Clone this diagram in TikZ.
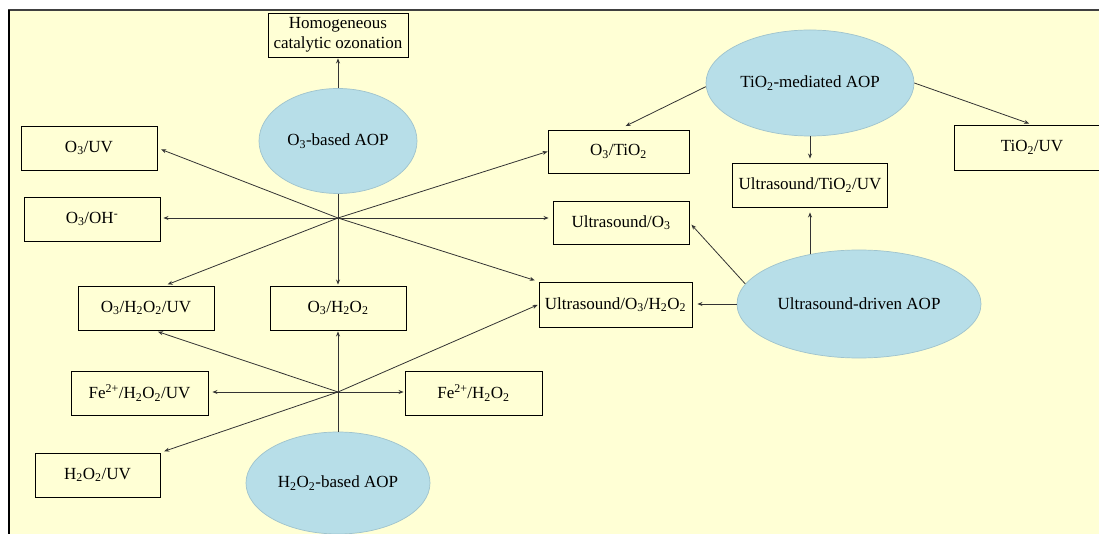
\documentclass[tikz,border=0pt]{standalone}
\usepackage{fontspec}
\setmainfont{Liberation Serif}
\usetikzlibrary{shapes.geometric,arrows.meta}

\begin{document}
\begin{tikzpicture}[x=1pt, y=-1pt, font=\fontsize{17}{20}\selectfont,
   proc/.style={draw, line width=0.9pt, fill=bgyellow, minimum width=136pt,
    minimum height=44pt, inner sep=0pt, align=center},
   aop/.style={ellipse, draw=aopline, line width=0.7pt, fill=aopblue, inner sep=0pt},
   link/.style={-{Stealth[length=5pt,width=4pt]}, line width=0.8pt, draw=linkgray}]
   \definecolor{bgyellow}{HTML}{FFFFD5}
   \definecolor{aopblue}{HTML}{B7DEE8}
   \definecolor{aopline}{HTML}{9FC3CD}
   \definecolor{linkgray}{HTML}{333333}
   \useasboundingbox (0,0) rectangle (1099,534);
   \clip (0,0) rectangle (1099,534);
   \fill[white] (0,0) rectangle (1099,534);
   \fill[bgyellow] (8,10) rectangle (1099,534);
   \draw[line width=2pt, draw=black!75] (8,10.5) -- (1099,10.5);
   \draw[line width=2.2pt] (8.6,10) -- (8.6,534);

   % O3 group
   \node[proc, minimum width=140pt] (homog) at (338,35) {Homogeneous\\catalytic ozonation};
   \node[aop, minimum width=158pt, minimum height=105pt] (o3aop) at (338,141) {O\textsubscript{3}-based AOP};
   \node[proc] (o3uv) at (89,148) {O\textsubscript{3}/UV};
   \node[proc] (o3oh) at (92,219) {O\textsubscript{3}/OH\textsuperscript{-}};
   \node[proc] (o3h2o2uv) at (146,308) {O\textsubscript{3}/H\textsubscript{2}O\textsubscript{2}/UV};
   \node[proc] (o3h2o2) at (338,308) {O\textsubscript{3}/H\textsubscript{2}O\textsubscript{2}};

   % TiO2 group
   \node[aop, minimum width=208pt, minimum height=106pt] (tio2aop) at (810,83) {TiO\textsubscript{2}-mediated AOP};
   \node[proc, minimum width=141pt, minimum height=43pt] (o3tio2) at (618.5,151.5) {O\textsubscript{3}/TiO\textsubscript{2}};
   \node[proc, minimum width=155pt] (ustio2uv) at (810,185) {Ultrasound/TiO\textsubscript{2}/UV};
   \node[proc, minimum width=156pt, minimum height=45pt] (tio2uv) at (1032,147.5) {TiO\textsubscript{2}/UV};

   % ultrasound group
   \node[aop, minimum width=244pt, minimum height=108pt] (usaop) at (859,304) {Ultrasound-driven AOP};
   \node[proc, minimum height=43pt] (uso3) at (621,222.5) {Ultrasound/O\textsubscript{3}};
   \node[proc, minimum width=153pt, minimum height=45pt] (uso3h2o2) at (615.5,304.5) {Ultrasound/O\textsubscript{3}/H\textsubscript{2}O\textsubscript{2}};

   % H2O2 group
   \node[aop, minimum width=184pt, minimum height=102pt] (h2o2aop) at (338,483) {H\textsubscript{2}O\textsubscript{2}-based AOP};
   \node[proc, minimum width=137pt] (feuv) at (139.5,393) {Fe\textsuperscript{2+}/H\textsubscript{2}O\textsubscript{2}/UV};
   \node[proc, minimum width=137pt] (fe) at (473.5,393) {Fe\textsuperscript{2+}/H\textsubscript{2}O\textsubscript{2}};
   \node[proc, minimum width=125pt] (h2o2uv) at (97.5,475) {H\textsubscript{2}O\textsubscript{2}/UV};

   \coordinate (hubA) at (338,218);
   \coordinate (hubB) at (338,392);

   % from O3-based AOP
   \draw[link, shorten >=1pt] (o3aop.north) -- (homog.south);
   \draw[line width=0.8pt, draw=linkgray] (o3aop.south) -- (hubA);
   \draw[link, shorten >=4pt] (hubA) -- (o3uv.east);
   \draw[link, shorten >=3pt] (hubA) -- (hubA -| o3oh.east);
   \draw[link, shorten >=3pt] (hubA) -- (o3h2o2uv.50);
   \draw[link, shorten >=1pt] (hubA) -- (o3h2o2.north);
   \draw[link] (hubA) -- (o3tio2.west);
   \draw[link, shorten >=4pt] (hubA) -- (hubA -| uso3.west);
   \draw[link, shorten >=4pt] (hubA) -- (uso3h2o2.north west);

   % from H2O2-based AOP
   \draw[line width=0.8pt, draw=linkgray] (h2o2aop.north) -- (hubB);
   \draw[link, shorten >=4pt] (hubB) -- (o3h2o2uv.-70);
   \draw[link, shorten >=1pt] (hubB) -- (o3h2o2.south);
   \draw[link, shorten >=4pt] (hubB) -- (hubB -| feuv.east);
   \draw[link, shorten >=1pt] (hubB) -- (hubB -| fe.west);
   \draw[link, shorten >=4pt] (hubB) -- (h2o2uv.north east);
   \draw[link, shorten >=1pt] (hubB) -- (uso3h2o2.west);

   % from TiO2-mediated AOP
   \draw[link, shorten >=8pt] (tio2aop.182) -- (o3tio2.north);
   \draw[link, shorten >=3pt] (tio2aop.east) -- (tio2uv.north);
   \draw[link, shorten >=4pt] (tio2aop.south) -- (ustio2uv.north);

   % from ultrasound-driven AOP
   \draw[link, shorten >=5pt] (usaop.135 -| ustio2uv.south) -- (ustio2uv.south);
   \draw[link, shorten >=3pt] (usaop.170) -- (uso3.east);
   \draw[link, shorten >=5pt] (usaop.west) -- (usaop.west -| uso3h2o2.east);
\end{tikzpicture}
\end{document}
